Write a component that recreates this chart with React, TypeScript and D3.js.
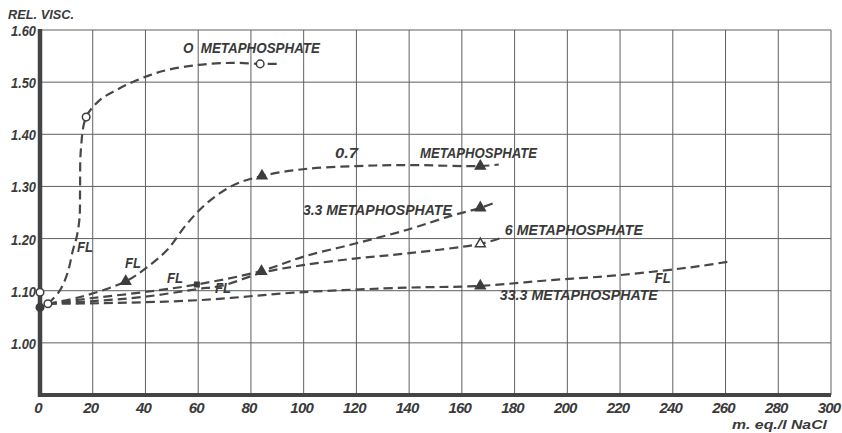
import React from 'react';
import * as d3 from 'd3';

const W = 842;
const H = 433;

// axis ticks
const xTicks = d3.range(0, 301, 20);
const yGrid = [0.9, 1.0, 1.1, 1.2, 1.3, 1.4, 1.5, 1.6];
const yLabels = ['1.00', '1.10', '1.20', '1.30', '1.40', '1.50', '1.60'];

// traced curves [m.eq./l NaCl, rel. visc.]
const curve0: [number, number][] = [
  [3, 1.075], [7.5, 1.1], [10.5, 1.135], [12.5, 1.178], [14, 1.205], [15, 1.24],
  [15.2, 1.3], [15.5, 1.37], [17.5, 1.433], [22.8, 1.466], [29, 1.485], [35, 1.5],
  [42, 1.514], [48, 1.523], [60, 1.533], [73, 1.537], [83.5, 1.535], [90, 1.535],
];
const curve07: [number, number][] = [
  [3, 1.075], [16, 1.089], [32.5, 1.118], [40.6, 1.145], [48.2, 1.178], [55.7, 1.228],
  [63.3, 1.268], [73.2, 1.302], [84.2, 1.32], [99.7, 1.333], [120, 1.339], [140, 1.341],
  [167, 1.339], [174, 1.342],
];
const curve33: [number, number][] = [
  [3, 1.075], [20, 1.086], [39, 1.097], [59.5, 1.112], [84, 1.138], [99.7, 1.165],
  [120, 1.191], [140, 1.218], [155.5, 1.243], [167, 1.259], [173, 1.27],
];
const curve6: [number, number][] = [
  [3, 1.075], [20, 1.08], [39, 1.088], [59.5, 1.103], [69.4, 1.11], [84, 1.134],
  [99.7, 1.149], [120, 1.162], [140, 1.172], [167, 1.19], [176, 1.203],
];
const curve333: [number, number][] = [
  [3, 1.075], [22.8, 1.076], [60.7, 1.082], [98.6, 1.097], [140, 1.106], [166, 1.109],
  [193, 1.12], [220, 1.13], [250, 1.147], [262.5, 1.157],
];

// measured points
const pts0: [number, number][] = [[3, 1.075], [17.5, 1.433], [83.5, 1.535]];
const pts07: [number, number][] = [[32.5, 1.118], [84.2, 1.32], [167, 1.339]];
const pts33: [number, number][] = [[59.5, 1.112], [84, 1.137], [167, 1.259]];
const pts6: [number, number][] = [[167, 1.19]];
const pts333: [number, number][] = [[167, 1.109]];
const ptsAxisOpen: [number, number][] = [[0, 1.097]];
const ptsAxisFilled: [number, number][] = [[0, 1.068]];

// annotations (data coords of text start, drawn width in px)
const labels: { t: string; x: number; y: number; w: number }[] = [
  { t: 'O  METAPHOSPHATE', x: 54.2, y: 1.556, w: 137 },
  { t: '0.7', x: 111.9, y: 1.354, w: 23 },
  { t: 'METAPHOSPHATE', x: 144.1, y: 1.354, w: 117 },
  { t: '3.3 METAPHOSPHATE', x: 99.7, y: 1.245, w: 149 },
  { t: '6 METAPHOSPHATE', x: 176.3, y: 1.207, w: 138 },
  { t: '33.3 METAPHOSPHATE', x: 174.4, y: 1.082, w: 158 },
  { t: 'FL', x: 14, y: 1.174, w: 16 },
  { t: 'FL', x: 32.2, y: 1.144, w: 16 },
  { t: 'FL', x: 48.2, y: 1.115, w: 16 },
  { t: 'FL', x: 66.4, y: 1.096, w: 16 },
  { t: 'FL', x: 233.2, y: 1.115, w: 16 },
];

const font = "'Liberation Sans Narrow', 'Liberation Sans', Arial, sans-serif";
const ink = '#3a3a3a';

export default function App() {
  const x = d3.scaleLinear().domain([0, 300]).range([40, 831]);
  const y = d3.scaleLinear().domain([0.9, 1.6]).range([395, 30]);
  const line = d3.line<[number, number]>()
    .x(d => x(d[0]))
    .y(d => y(d[1]))
    .curve(d3.curveCatmullRom.alpha(0.5));
  const tri = d3.symbol().type(d3.symbolTriangle).size(42)();
  const sq = d3.symbol().type(d3.symbolSquare).size(20)();

  const curves = [curve0, curve07, curve33, curve6, curve333];

  const txt = { fontFamily: font, fontWeight: 700, fontStyle: 'italic' as const, fill: ink };

  return (
    <div style={{ position: 'absolute', left: 0, top: 0 }}>
      <svg width={W} height={H} style={{ display: 'block', background: '#fff' }}>
        {/* grid */}
        <g stroke="#606060" strokeWidth={1}>
          {xTicks.map(v => (
            <line key={'gx' + v} x1={x(v)} x2={x(v)} y1={y(1.6)} y2={y(0.9)} />
          ))}
          {yGrid.map(v => (
            <line key={'gy' + v} x1={x(0)} x2={x(300)} y1={y(v)} y2={y(v)} />
          ))}
        </g>
        {/* axes */}
        <line x1={x(0)} x2={x(0)} y1={y(1.6) - 1} y2={y(0.9) + 2} stroke="#444" strokeWidth={4.5} />
        <line x1={x(0) - 2} x2={x(300)} y1={y(0.9)} y2={y(0.9)} stroke="#444" strokeWidth={4} />

        {/* y labels */}
        {yLabels.map(l => (
          <text key={l} x={x(0) - 4} y={y(+l) + 6} textAnchor="end" fontSize={15} {...txt}
            textLength={25} lengthAdjust="spacingAndGlyphs">{l}</text>
        ))}
        {/* x labels */}
        {xTicks.map(v => (
          <text key={'xl' + v} x={x(v) - 2} y={413} textAnchor="middle" fontSize={15} {...txt}
            letterSpacing={-0.8}>{v}</text>
        ))}
        <text x={8} y={19} fontSize={13} {...txt} textLength={66} lengthAdjust="spacingAndGlyphs">REL. VISC.</text>
        <text x={732} y={429} fontSize={13} {...txt} textLength={95} lengthAdjust="spacingAndGlyphs">m. eq./l NaCl</text>

        {/* curves */}
        <g fill="none" stroke="#474747" strokeWidth={2.2} strokeDasharray="9 5">
          {curves.map((c, i) => <path key={i} d={line(c) || ''} />)}
        </g>

        {/* markers */}
        <g stroke="#3d3d3d" strokeWidth={1.5}>
          {pts0.map((p, i) => (
            <circle key={'c' + i} cx={x(p[0])} cy={y(p[1])} r={3.8} fill="#fff" />
          ))}
          {ptsAxisOpen.map((p, i) => (
            <circle key={'ao' + i} cx={x(p[0])} cy={y(p[1])} r={3.8} fill="#fff" />
          ))}
          {ptsAxisFilled.map((p, i) => (
            <circle key={'af' + i} cx={x(p[0])} cy={y(p[1])} r={3.8} fill="#3d3d3d" />
          ))}
          {pts07.map((p, i) => (
            <path key={'t7' + i} d={tri || ''} transform={`translate(${x(p[0])},${y(p[1])})`} fill="#3d3d3d" />
          ))}
          {pts33.map((p, i) => (
            <path key={'t3' + i} d={(i === 0 ? sq : tri) || ''} transform={`translate(${x(p[0])},${y(p[1])})`} fill="#3d3d3d" />
          ))}
          {pts6.map((p, i) => (
            <path key={'t6' + i} d={tri || ''} transform={`translate(${x(p[0])},${y(p[1])})`} fill="#fff" />
          ))}
          {pts333.map((p, i) => (
            <path key={'t33' + i} d={tri || ''} transform={`translate(${x(p[0])},${y(p[1])})`} fill="#3d3d3d" />
          ))}
        </g>

        {/* annotations */}
        {labels.map((l, i) => (
          <text key={'lb' + i} x={x(l.x)} y={y(l.y)} fontSize={15} {...txt}
            style={{ whiteSpace: 'pre' }} textLength={l.w} lengthAdjust="spacingAndGlyphs">{l.t}</text>
        ))}
      </svg>
    </div>
  );
}
